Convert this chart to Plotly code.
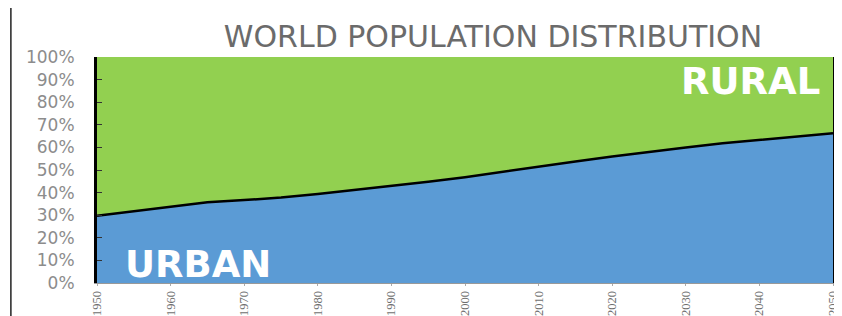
import plotly.graph_objects as go

years = [1950, 1955, 1960, 1965, 1970, 1975, 1980, 1985, 1990, 1995, 2000,
         2005, 2010, 2015, 2020, 2025, 2030, 2035, 2040, 2045, 2050]
urban_pct = [29.8, 31.8, 33.8, 35.7, 36.7, 37.8, 39.4, 41.1, 42.8, 44.8, 46.8,
             49.2, 51.6, 53.8, 56.0, 58.1, 60.0, 61.8, 63.4, 64.9, 66.3]
rural_pct = [100 - u for u in urban_pct]

x_ticks = [1950, 1960, 1970, 1980, 1990, 2000, 2010, 2020, 2030, 2040, 2050]
y_ticks = [0, 10, 20, 30, 40, 50, 60, 70, 80, 90, 100]
y_labels = [f"{v}%" for v in y_ticks]

fig = go.Figure()
fig.add_trace(go.Scatter(
    x=years, y=urban_pct, stackgroup="pop", name="Urban",
    line=dict(color="black", width=2.5), fillcolor="#5B9BD5", mode="lines"))
fig.add_trace(go.Scatter(
    x=years, y=rural_pct, stackgroup="pop", name="Rural",
    line=dict(color="#92D050", width=0), fillcolor="#92D050", mode="lines"))

fig.update_layout(
    width=842, height=316,
    margin=dict(l=89, r=17, t=49, b=41, autoexpand=False),
    paper_bgcolor="white", plot_bgcolor="white",
    showlegend=False,
    title=dict(text="WORLD POPULATION DISTRIBUTION", x=0.576, xanchor="center",
               y=0.911, yanchor="middle", automargin=False,
               font=dict(family="DejaVu Sans", size=30, color="#6b6b6b")),
    xaxis=dict(range=[1950, 2050], tickvals=x_ticks, ticktext=[str(v) for v in x_ticks],
               tickangle=-90, ticks="outside", ticklen=2, tickcolor="#aaaaaa",
               automargin=False,
               tickfont=dict(family="Liberation Serif", size=12.5, color="#6f6f6f"),
               showline=True, linecolor="#999999", linewidth=1,
               showgrid=False, zeroline=False),
    yaxis=dict(range=[0, 100], tickvals=y_ticks, ticktext=y_labels,
               ticks="inside", ticklen=5, tickcolor="#333333", tickwidth=1,
               ticklabelstandoff=16, automargin=False,
               tickfont=dict(family="DejaVu Sans", size=17, color="#8c8c8c"),
               showline=True, linecolor="black", linewidth=3, mirror=True,
               showgrid=False, zeroline=False),
)

fig.add_annotation(text="URBAN", xref="x", yref="y", x=1953.5, y=8, xanchor="left",
                   yanchor="middle", showarrow=False,
                   font=dict(family="DejaVu Sans", size=37, color="white", weight="bold"))
fig.add_annotation(text="RURAL", xref="x", yref="y", x=2048.5, y=89, xanchor="right",
                   yanchor="middle", showarrow=False,
                   font=dict(family="DejaVu Sans", size=37, color="white", weight="bold"))

fig.add_shape(type="line", xref="paper", yref="paper", x0=-0.117, x1=-0.117,
              y0=-0.2, y1=1.3, line=dict(color="#222222", width=1.5))

fig.write_html("out.html")
